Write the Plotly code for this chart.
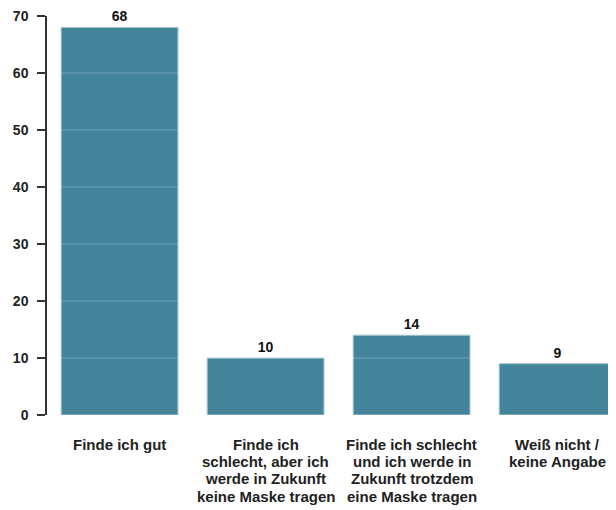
import plotly.graph_objects as go

categories = [
    "Finde ich gut",
    "Finde ich<br>schlecht, aber ich<br>werde in Zukunft<br>keine Maske tragen",
    "Finde ich schlecht<br>und ich werde in<br>Zukunft trotzdem<br>eine Maske tragen",
    "Weiß nicht /<br>keine Angabe",
]
values = [68, 10, 14, 9]
y_ticks = [0, 10, 20, 30, 40, 50, 60, 70]

FONT = "Liberation Sans, Arial, sans-serif"

fig = go.Figure()
fig.add_trace(go.Bar(
    x=list(range(len(categories))),
    y=values,
    marker=dict(color="#43849a", line=dict(color="#a5c8d3", width=1)),
    text=[str(v) for v in values],
    texttemplate="<b>%{text}</b>",
    textposition="outside",
    textfont=dict(family=FONT, size=14, color="#111111"),
    cliponaxis=False,
))

# faint grid lines drawn over the bars
for t in y_ticks[1:-1]:
    fig.add_shape(type="line", xref="paper", yref="y", x0=0, x1=1, y0=t, y1=t,
                  line=dict(color="rgba(255,255,255,0.25)", width=1), layer="above")

# category labels, one annotation per line for tighter line spacing
for i, cat in enumerate(categories):
    for k, line in enumerate(cat.split("<br>")):
        fig.add_annotation(
            x=i, y=0, xref="x", yref="y", yanchor="top", xanchor="center",
            yshift=-19 - 17.2 * k, showarrow=False,
            text=f"<b>{line}</b>",
            font=dict(family=FONT, size=15, color="#222222"),
        )

fig.update_layout(
    width=608, height=502,
    margin=dict(l=39, r=0, t=6, b=95),
    plot_bgcolor="white", paper_bgcolor="white",
    bargap=0.2,
    showlegend=False,
    font=dict(family=FONT, size=14, color="#222222"),
)
fig.update_xaxes(
    range=[-0.497, 3.400],
    tickvals=list(range(len(categories))),
    showticklabels=False,
    showgrid=False, showline=False, zeroline=False, ticks="",
)
fig.update_yaxes(
    range=[0, 70],
    tickvals=y_ticks,
    ticktext=[f"<b>{t}</b>" for t in y_ticks],
    tickfont=dict(family=FONT, size=14, color="#222222"),
    showgrid=False, zeroline=False,
    showline=True, linecolor="#333333", linewidth=1.5,
    ticks="outside", ticklen=8, tickcolor="#333333", tickwidth=1.5,
    ticklabelstandoff=6, ticklabeloverflow="allow",
)

fig.write_html("out.html")
